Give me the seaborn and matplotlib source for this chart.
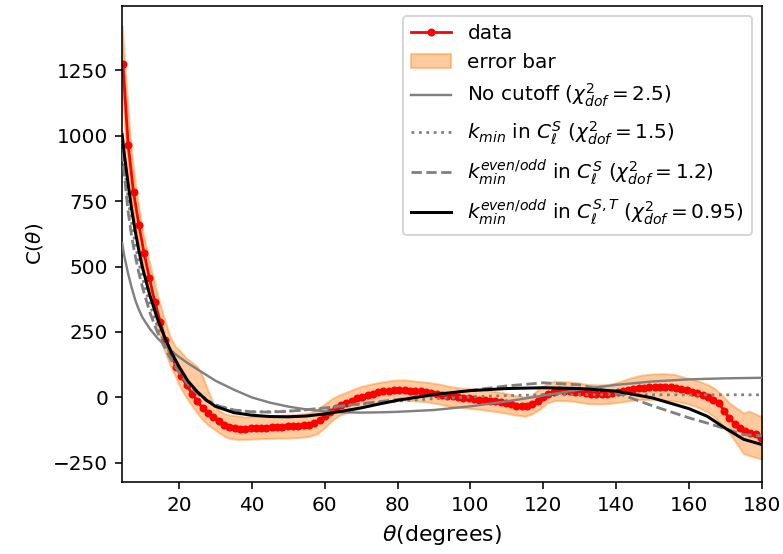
import numpy as np
import pandas as pd
import matplotlib
matplotlib.use("Agg")
import matplotlib.pyplot as plt
import seaborn as sns

# ---------------- data ----------------
theta_data = [4.60, 6.06, 7.52, 8.98, 10.44, 11.90, 13.36, 14.82, 16.28, 17.74,
              19.20, 20.66, 22.12, 23.58, 25.04, 26.50, 27.96, 29.42, 30.88, 32.34,
              33.80, 35.26, 36.72, 38.18, 39.64, 41.10, 42.56, 44.02, 45.48, 46.94,
              48.40, 49.86, 51.32, 52.78, 54.24, 55.70, 57.16, 58.62, 60.08, 61.54,
              63.00, 64.46, 65.92, 67.38, 68.84, 70.30, 71.76, 73.22, 74.68, 76.14,
              77.60, 79.06, 80.52, 81.98, 83.44, 84.90, 86.36, 87.82, 89.28, 90.74,
              92.20, 93.66, 95.12, 96.58, 98.04, 99.50, 100.96, 102.42, 103.88, 105.34,
              106.80, 108.26, 109.72, 111.18, 112.64, 114.10, 115.56, 117.02, 118.48, 119.94,
              121.40, 122.86, 124.32, 125.78, 127.24, 128.70, 130.16, 131.62, 133.08, 134.54,
              136.00, 137.46, 138.92, 140.38, 141.84, 143.30, 144.76, 146.22, 147.68, 149.14,
              150.60, 152.06, 153.52, 154.98, 156.44, 157.90, 159.36, 160.82, 162.28, 163.74,
              165.20, 166.66, 168.12, 169.58, 171.04, 172.50, 173.96, 175.42, 176.88, 178.34,
              179.80]
C_data = [1275, 965, 785, 660, 550, 455, 365, 290, 220, 166,
          118, 80, 46, 15, -14, -41, -58, -75, -91, -104,
          -112, -118, -120, -119, -118, -117, -116, -115, -114, -113,
          -112, -111, -110, -109, -107, -104, -97, -86, -72, -55,
          -40, -30, -22, -13, -4, 3, 9, 14, 19, 23,
          26, 28, 29, 28, 26, 24, 23, 21, 18, 15,
          11, 7, 4, 2, -1, -3, -5, -8, -10, -12,
          -15, -18, -21, -26, -31, -34, -33, -25, -12, 2,
          14, 22, 27, 26, 24, 22, 19, 16, 14, 13,
          13, 14, 16, 20, 25, 29, 32, 35, 37, 39,
          40, 40, 39, 38, 36, 32, 27, 22, 16, 9,
          2, -8, -20, -50, -80, -100, -115, -128, -134, -140,
          -155]

# error band (lower / upper edges)
theta_band = [4.4, 5.5, 6.5, 7.5, 8.5, 10, 11.5, 13, 14.5, 16, 17.5, 19, 20.5, 22,
              23.5, 25, 26.5, 28, 29.5, 31, 32.5, 34, 36, 38, 42, 46, 50, 54, 56,
              58, 60, 62, 64, 66, 68, 70, 73, 76, 79, 82, 85, 88, 91, 94, 97, 100,
              103, 106, 109, 112, 115, 117, 119, 121, 123, 126, 129, 132, 135, 138,
              141, 144, 147, 150, 153, 156, 159, 162, 165, 167, 169, 171, 173, 175,
              176.5, 178, 180]
band_lo = [1160, 950, 810, 705, 620, 510, 420, 335, 250, 180, 125, 80, 35, 0,
           -30, -60, -85, -105, -120, -135, -148, -157, -160, -160, -158, -156, -155, -152, -148,
           -138, -115, -88, -68, -58, -48, -38, -25, -16, -11, -10, -13, -17, -24, -33, -38, -42,
           -46, -52, -58, -66, -72, -62, -45, -22, -12, -12, -16, -23, -25, -23,
           -18, -12, -8, -8, -10, -14, -22, -35, -55, -75, -105, -135, -175, -215,
           -222, -228, -235]
band_hi = [1420, 1200, 1010, 870, 770, 640, 540, 455, 370, 300, 235, 195, 175, 150,
           135, 118, 80, 25, -25, -50, -62, -68, -70, -75, -72, -70, -67, -63, -58,
           -45, -25, -5, 10, 20, 32, 42, 52, 60, 66, 67, 62, 58, 52, 43, 36, 33,
           30, 24, 18, 8, 2, 10, 35, 52, 62, 60, 57, 50, 48, 50,
           60, 75, 85, 90, 91, 88, 76, 65, 50, 35, 10, -20, -40, -60,
           -52, -62, -74]

# model curves
theta_model = [4.4, 5, 6, 7, 8, 9, 10, 12, 14, 16, 18, 20, 22.5, 25, 27.5, 30,
               35, 40, 45, 50, 55, 60, 65, 70, 75, 80, 90, 100, 110, 120, 130,
               140, 150, 160, 165, 170, 175, 180]
C_nocut = [590, 540, 475, 420, 372, 335, 305, 262, 228, 200, 176, 155, 130, 108, 86, 64,
           30, 0, -20, -35, -46, -53, -57, -58, -57, -55, -48, -34, -15, 7, 30,
           48, 61, 69, 71, 73, 74, 75]
C_kmin = [980, 890, 765, 665, 585, 515, 455, 355, 275, 210, 155, 108, 60, 22, -8, -28,
          -48, -55, -55, -52, -47, -42, -33, -25, -19, -14, -5, 2, 7, 10, 11,
          11, 10, 10, 10, 10, 10, 10]
C_eo_S = [940, 850, 715, 615, 540, 475, 420, 325, 252, 192, 140, 95, 50, 15, -12, -30,
          -48, -55, -56, -53, -47, -40, -32, -24, -16, -8, 9, 27, 44, 56, 48,
          18, -32, -78, -98, -120, -142, -147]
C_eo_ST = [1005, 930, 820, 720, 635, 560, 495, 390, 305, 232, 170, 118, 62, 22, -10, -34,
           -58, -68, -73, -74, -71, -63, -52, -40, -25, -11, 11, 26, 34, 37, 34,
           24, -2, -43, -72, -118, -160, -180]

labels = [r'data', r'error bar', r'No cutoff ($\chi^2_{dof}=2.5$)',
          r'$k_{min}$ in $C_\ell^S$ ($\chi^2_{dof}=1.5$)',
          r'$k_{min}^{even/odd}$ in $C_\ell^S$ ($\chi^2_{dof}=1.2$)',
          r'$k_{min}^{even/odd}$ in $C_\ell^{S,T}$ ($\chi^2_{dof}=0.95$)']

# ---------------- figure ----------------
plt.rcParams['font.family'] = ['DejaVu Sans']
DPI = 144
fig, ax = plt.subplots(figsize=(783 / DPI, 554 / DPI), dpi=DPI)
fig.subplots_adjust(left=0.156, right=0.973, bottom=0.130, top=0.989)

band = ax.fill_between(theta_band, band_lo, band_hi, color='C1', alpha=0.4,
                       label=labels[1], zorder=1)
sns.lineplot(x=theta_data, y=C_data, ax=ax, color='red', marker='o',
             markersize=4.0, markeredgewidth=0, lw=1.4, label=labels[0], zorder=2)
sns.lineplot(x=theta_model, y=C_nocut, ax=ax, color='gray', lw=1.2,
             label=labels[2], zorder=3)
sns.lineplot(x=theta_model, y=C_kmin, ax=ax, color='gray', lw=1.4, ls=':',
             label=labels[3], zorder=3)
sns.lineplot(x=theta_model, y=C_eo_S, ax=ax, color='gray', lw=1.4, ls='--',
             label=labels[4], zorder=3)
sns.lineplot(x=theta_model, y=C_eo_ST, ax=ax, color='black', lw=1.5,
             label=labels[5], zorder=4)

handles, labs = ax.get_legend_handles_labels()
hmap = dict(zip(labs, handles))
hmap[labels[1]] = band
ax.legend([hmap[l] for l in labels], labels, loc='upper right', fontsize=10)

ax.set_xlim(4.4, 180)
ax.set_ylim(-323, 1495)
ax.set_xlabel(r'$\theta$(degrees)', fontsize=11)
ax.set_ylabel(r'C($\theta$)', fontsize=10)
ax.tick_params(labelsize=10)

fig.savefig('out.png', dpi=DPI)
